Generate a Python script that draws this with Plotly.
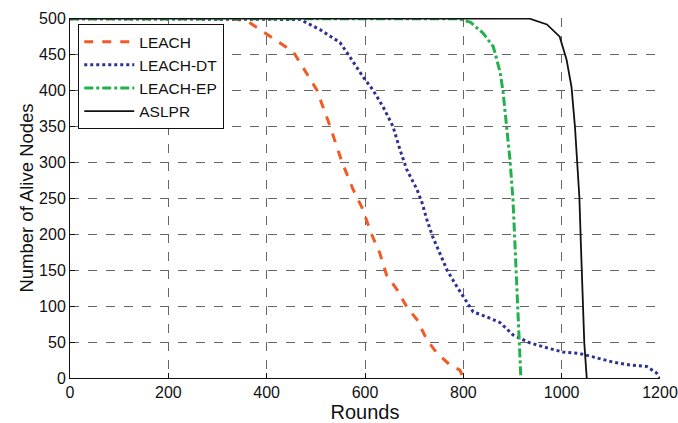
import plotly.graph_objects as go

leach_x = [0, 330, 360, 393, 420, 454, 474, 502, 529, 553, 576, 594, 614, 630, 644, 665, 685, 706, 726, 746, 773, 793, 800]
leach_y = [500, 500, 497, 482, 470, 454, 432, 401, 350, 301, 262, 237, 199, 174, 143, 123, 99, 81, 53, 35, 18, 11, 0]

dt_x = [0, 455, 468, 508, 549, 569, 596, 616, 637, 657, 671, 685, 706, 716, 726, 738, 752, 767, 787, 800, 820, 848, 875, 901, 935, 970, 1003, 1037, 1071, 1105, 1139, 1173, 1193, 1200]
dt_y = [500, 500, 499, 485, 467, 447, 419, 401, 377, 350, 318, 290, 262, 244, 220, 196, 174, 150, 127, 113, 92, 85, 77, 60, 49, 42, 36, 34, 28, 22, 18, 16, 7, 0]

ep_x = [0, 790, 815, 840, 861, 875, 881, 888, 895, 901, 905, 909, 912, 915, 917]
ep_y = [500, 500, 495, 480, 461, 425, 397, 350, 303, 248, 188, 141, 95, 49, 0]

aslpr_x = [0, 935, 970, 996, 1010, 1020, 1027, 1032, 1036, 1039, 1043, 1046, 1051]
aslpr_y = [500, 500, 492, 475, 443, 405, 350, 303, 252, 188, 118, 49, 0]

x_ticks = [0, 200, 400, 600, 800, 1000, 1200]
y_ticks = [0, 50, 100, 150, 200, 250, 300, 350, 400, 450, 500]

fig = go.Figure()
fig.add_trace(go.Scatter(x=leach_x, y=leach_y, mode="lines", name="LEACH",
                         line=dict(color="#F15A24", width=3, dash="dash")))
fig.add_trace(go.Scatter(x=dt_x, y=dt_y, mode="lines", name="LEACH-DT",
                         line=dict(color="#2E3192", width=3, dash="dot")))
fig.add_trace(go.Scatter(x=ep_x, y=ep_y, mode="lines", name="LEACH-EP",
                         line=dict(color="#22B14C", width=3, dash="dashdot")))
fig.add_trace(go.Scatter(x=aslpr_x, y=aslpr_y, mode="lines", name="ASLPR",
                         line=dict(color="#111111", width=1.8)))

fig.update_layout(
    width=678, height=423,
    margin=dict(l=70, r=18, t=18, b=45),
    paper_bgcolor="white", plot_bgcolor="white",
    font=dict(family="Liberation Sans, Arial, sans-serif", size=16, color="#111"),
    legend=dict(x=0.014, y=0.983, xanchor="left", yanchor="top",
                bgcolor="white", bordercolor="#111", borderwidth=1,
                font=dict(size=15.5), tracegroupgap=0, itemwidth=50),
    xaxis=dict(range=[0, 1200], tickvals=x_ticks, showgrid=True, griddash="dash",
               gridcolor="#666", gridwidth=1, showline=True, linecolor="#111", linewidth=1,
               ticks="inside", ticklen=5, tickcolor="#111", zeroline=False, automargin=False,
               tickfont=dict(size=16),
               title=dict(text="Rounds", font=dict(size=20), standoff=2)),
    yaxis=dict(range=[0, 501], tickvals=y_ticks, showgrid=True, griddash="dash",
               gridcolor="#666", gridwidth=1, showline=True, linecolor="#111", linewidth=1,
               ticks="inside", ticklen=5, tickcolor="#111", zeroline=False, automargin=False,
               tickfont=dict(size=16),
               title=dict(text="Number of Alive Nodes", font=dict(size=18.5), standoff=0)),
)

fig.write_html("out.html", config={"displayModeBar": False},
               post_script="document.body.style.margin='0';")
